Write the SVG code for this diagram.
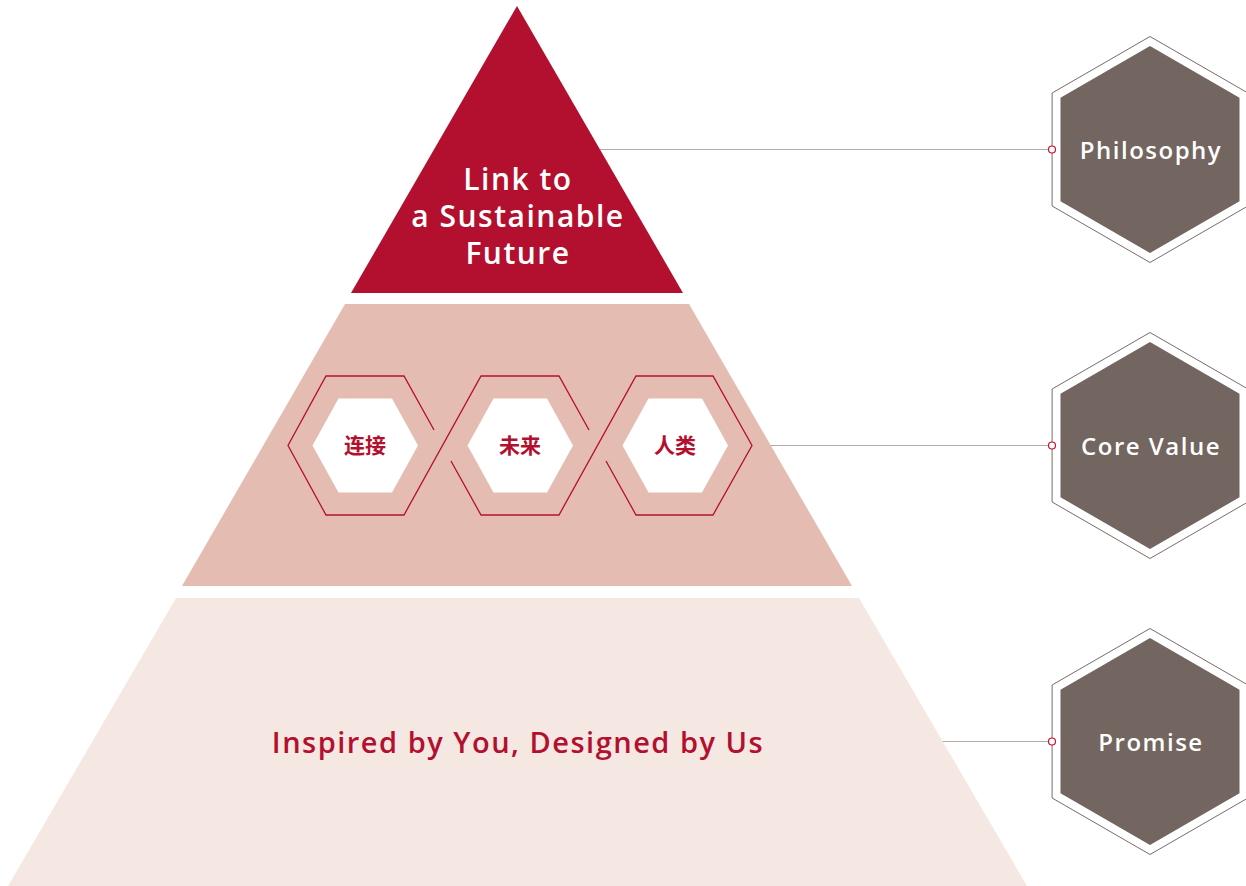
<svg xmlns="http://www.w3.org/2000/svg" width="1246" height="886" viewBox="0 0 1246 886">
<style>
.lbl{font-family:"Open Sans","Liberation Sans",sans-serif;font-weight:600;text-anchor:middle;letter-spacing:1.5px}
.cn{font-family:"Noto Sans CJK SC","Noto Sans",sans-serif;font-weight:700;font-size:21px;fill:#B2102E;text-anchor:middle}
.hexo{fill:none;stroke:#7a6c67;stroke-width:1}
.hexi{fill:#736560}
.conn{stroke:#b3a9a5;stroke-width:1;fill:none}
.dot{fill:#fff;stroke:#C8102E;stroke-width:1.2}
.strand{fill:none;stroke:#B2102E;stroke-width:1.3;stroke-linejoin:miter}
.whex{fill:#fff}
</style>
<rect width="1246" height="886" fill="#fff"/>
<g id="connectors">
<line class="conn" x1="600" y1="149.5" x2="1052" y2="149.5"/>
<line class="conn" x1="770" y1="445.5" x2="1052" y2="445.5"/>
<line class="conn" x1="942" y1="741.5" x2="1052" y2="741.5"/>
</g>
<g id="level-philosophy">
<polygon fill="#B2102E" points="517,6 351,293 683,293"/>
<text class="lbl" x="518" y="190" font-size="30" fill="#fff">Link to</text>
<text class="lbl" x="518" y="227" font-size="30" fill="#fff">a Sustainable</text>
<text class="lbl" x="518" y="264" font-size="30" fill="#fff">Future</text>
</g>
<g id="level-core-value">
<polygon fill="#E5BCB1" points="345,304 689,304 852,586 182,586"/>
<path class="strand" d="M434,430 L404,376 L326,376 L288,445.5 L326,515 L404,515 L481,376 L559,376 L589,430"/>
<path class="strand" d="M451,461 L481,515 L559,515 L636,376 L713,376 L752,445.5 L713,515 L636,515 L606,461"/>
</g>
<g id="hex-lianjie">
<polygon class="whex" points="312.5,445.5 338.5,398.5 392,398.5 418,445.5 392,492.5 338.5,492.5"/>
<text class="cn" x="365" y="452.5">连接</text>
</g>
<g id="hex-weilai">
<polygon class="whex" points="467.5,445.5 493.5,398.5 547,398.5 573,445.5 547,492.5 493.5,492.5"/>
<text class="cn" x="520" y="452.5">未来</text>
</g>
<g id="hex-renlei">
<polygon class="whex" points="622.5,445.5 648.5,398.5 702,398.5 728,445.5 702,492.5 648.5,492.5"/>
<text class="cn" x="675" y="452.5">人类</text>
</g>
<g id="level-promise">
<polygon fill="#F5E8E3" points="176,598 859,598 1027,886 8,886"/>
<text class="lbl" x="518" y="753" font-size="29" fill="#B2102E">Inspired by You, Designed by Us</text>
</g>
<g id="node-philosophy">
<polygon class="hexo" points="1150,36.5 1247.9,93 1247.9,206 1150,262.5 1052.1,206 1052.1,93"/>
<polygon class="hexi" points="1150,46 1239.5,97.7 1239.5,201.3 1150,253 1060.5,201.3 1060.5,97.7"/>
<text class="lbl" x="1151" y="158.5" font-size="24" fill="#fff">Philosophy</text>
<circle class="dot" cx="1052" cy="149.5" r="3.5"/>
</g>
<g id="node-core-value">
<polygon class="hexo" points="1150,332.5 1247.9,389 1247.9,502 1150,558.5 1052.1,502 1052.1,389"/>
<polygon class="hexi" points="1150,342 1239.5,393.7 1239.5,497.3 1150,549 1060.5,497.3 1060.5,393.7"/>
<text class="lbl" x="1151" y="454.5" font-size="24" fill="#fff">Core Value</text>
<circle class="dot" cx="1052" cy="445.5" r="3.5"/>
</g>
<g id="node-promise">
<polygon class="hexo" points="1150,628.5 1247.9,685 1247.9,798 1150,854.5 1052.1,798 1052.1,685"/>
<polygon class="hexi" points="1150,638 1239.5,689.7 1239.5,793.3 1150,845 1060.5,793.3 1060.5,689.7"/>
<text class="lbl" x="1151" y="750.5" font-size="24" fill="#fff">Promise</text>
<circle class="dot" cx="1052" cy="741.5" r="3.5"/>
</g>
</svg>
